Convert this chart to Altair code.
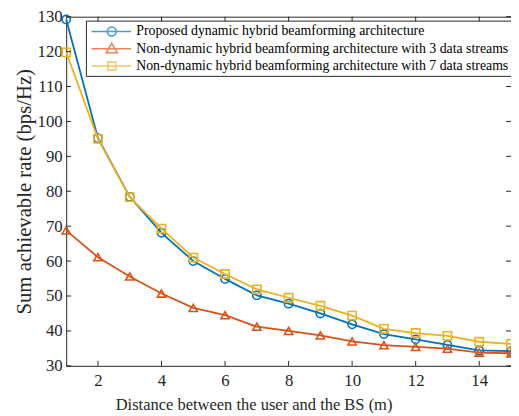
import altair as alt
import pandas as pd

dist = list(range(1, 16))
proposed = [129.2, 95.2, 78.4, 68.1, 60.0, 54.9, 50.2, 47.8, 45.0, 41.9, 39.1, 37.6, 36.0, 34.4, 34.2]
nd3 = [68.8, 61.1, 55.6, 50.7, 46.6, 44.5, 41.2, 40.0, 38.7, 37.0, 35.9, 35.4, 34.9, 33.8, 33.6]
nd7 = [119.8, 95.0, 78.3, 69.3, 61.0, 56.3, 51.9, 49.5, 47.2, 44.4, 40.6, 39.4, 38.6, 36.9, 36.3]

names = [
    "Proposed dynamic hybrid beamforming architecture",
    "Non-dynamic hybrid beamforming architecture with 3 data streams",
    "Non-dynamic hybrid beamforming architecture with 7 data streams",
]
colors = ["#0072BD", "#D95319", "#EDB120"]
shapes = ["circle", "triangle-up", "square"]
# legend symbols: line + marker, drawn in a small unit box and extending to the right
legend_paths = [
    "M-0.66,0H4.34M1.34,0A0.56,0.56 0 1,0 2.46,0A0.56,0.56 0 1,0 1.34,0",
    "M-0.66,0H4.34M1.9,-0.68L2.6,0.5L1.2,0.5Z",
    "M-0.66,0H4.34M1.4,-0.5H2.4V0.5H1.4Z",
]
x_ticks = [2, 4, 6, 8, 10, 12, 14]
y_ticks = [30, 40, 50, 60, 70, 80, 90, 100, 110, 120, 130]

W, H = 451, 354
FONT = "Liberation Serif"

series = [proposed, nd3, nd7]
df = pd.concat(
    [pd.DataFrame({"d": dist, "v": vals, "s": nm}) for vals, nm in zip(series, names)],
    ignore_index=True,
)

xs = alt.Scale(domain=[1, 15], nice=False, zero=False)
ys = alt.Scale(domain=[30, 130], nice=False, zero=False)
xaxis = alt.Axis(values=x_ticks, title="Distance between the user and the BS (m)",
                 grid=False, ticks=False, domain=False, labelPadding=7, titlePadding=8,
                 labelFontSize=17, titleFontSize=16.7, titleX=190)
yaxis = alt.Axis(values=y_ticks, title="Sum achievable rate (bps/Hz)",
                 grid=False, ticks=False, domain=False, labelPadding=4, titlePadding=3,
                 labelFontSize=17, titleFontSize=21)


def X(field):
    return alt.X(field, scale=xs, axis=xaxis)


def Y(field):
    return alt.Y(field, scale=ys, axis=yaxis)


layers = []
for i, nm in enumerate(names):
    sub = df[df["s"] == nm]
    base = alt.Chart(sub)
    layers.append(base.mark_line(color=colors[i], strokeWidth=1.8).encode(x=X("d:Q"), y=Y("v:Q")))
    layers.append(base.mark_point(color=colors[i], shape=shapes[i], size=70, filled=False,
                                  strokeWidth=1.6, opacity=1).encode(x=X("d:Q"), y=Y("v:Q")))

legend_layer = alt.Chart(df).transform_filter("datum.v < -1000").mark_point(filled=False, strokeWidth=1.6).encode(
    x=X("d:Q"),
    y=Y("v:Q"),
    color=alt.Color("s:N", scale=alt.Scale(domain=names, range=colors),
                    legend=alt.Legend(title=None, orient="none", legendX=20, legendY=4,
                                      symbolSize=256, symbolStrokeWidth=1.6,
                                      labelFont=FONT, labelFontSize=14, labelColor="#000000",
                                      strokeColor="#262626", fillColor="#ffffff",
                                      padding=2, rowPadding=0.5, labelOffset=31, labelLimit=0)),
    shape=alt.Shape("s:N", scale=alt.Scale(domain=names, range=legend_paths)),
)

xt = pd.DataFrame({"d": x_ticks})
yt = pd.DataFrame({"v": y_ticks})
tick_color = "#262626"
tick_layers = [
    alt.Chart(xt).mark_rule(color=tick_color, strokeWidth=1).encode(
        x=X("d:Q"), y=alt.value(H - 5), y2=alt.value(H)),
    alt.Chart(xt).mark_rule(color=tick_color, strokeWidth=1).encode(
        x=X("d:Q"), y=alt.value(0), y2=alt.value(5)),
    alt.Chart(yt).mark_rule(color=tick_color, strokeWidth=1).encode(
        y=Y("v:Q"), x=alt.value(0), x2=alt.value(5)),
    alt.Chart(yt).mark_rule(color=tick_color, strokeWidth=1).encode(
        y=Y("v:Q"), x=alt.value(W - 5), x2=alt.value(W)),
]

chart = alt.layer(*layers, legend_layer, *tick_layers).properties(
    width=W, height=H,
    background="#ffffff",
    autosize=alt.AutoSizeParams(type="none"),
    padding={"left": 59, "top": 6, "right": 0, "bottom": 45},
).configure_view(stroke="#262626", strokeWidth=1).configure_axis(
    labelFont=FONT, labelColor="#262626", labelOverlap=False,
    titleFont=FONT, titleColor="#262626", titleFontWeight="normal",
)

chart.save("out.html", embed_options={"renderer": "svg", "actions": False})
